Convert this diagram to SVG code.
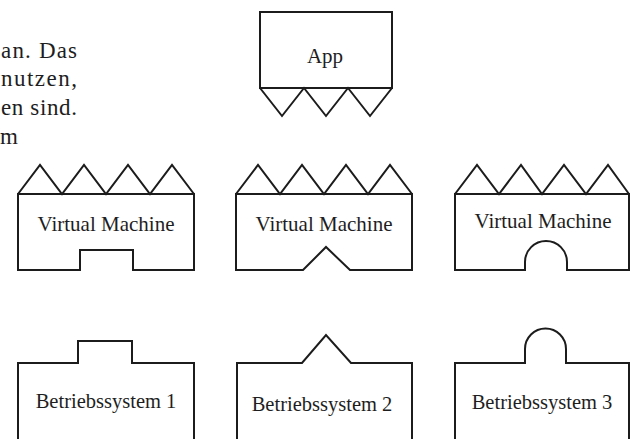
<svg xmlns="http://www.w3.org/2000/svg" width="631" height="439" viewBox="0 0 631 439">
  <style>
    .shape { fill: #ffffff; stroke: #1c1c1c; stroke-width: 2; stroke-linejoin: miter; }
    .line { fill: none; stroke: #1c1c1c; stroke-width: 2; stroke-linejoin: miter; }
    .label { font-family: "Liberation Serif", "Times New Roman", serif; fill: #1e1e1e; text-anchor: middle; }
    .vm { font-size: 21px; }
    .os { font-size: 20.5px; }
    .body { font-family: "Liberation Serif", "Times New Roman", serif; font-size: 23px; fill: #1e1e1e; }
  </style>
  <rect width="631" height="439" fill="#ffffff"/>

  <g id="side-text">
    <text class="body" x="1" y="58" textLength="76" lengthAdjust="spacing">an. Das</text>
    <text class="body" x="1" y="86" textLength="76" lengthAdjust="spacing">nutzen,</text>
    <text class="body" x="1" y="115" textLength="76" lengthAdjust="spacing">en sind.</text>
    <text class="body" x="0" y="144">m</text>
  </g>

  <g id="app">
    <rect class="shape" x="260" y="12" width="132" height="76"/>
    <path class="line" d="M260,88 L282,116 L304,88 L326,116 L348,88 L370,116 L392,88"/>
    <text class="label" x="325" y="63" font-size="21">App</text>
  </g>

  <g id="vm1">
    <path class="shape" d="M18,194 L194,194 L194,270 L133,270 L133,250 L80,250 L80,270 L18,270 Z"/>
    <path class="line" d="M18,194 L40,165 L62,194 L84,165 L106,194 L128,165 L150,194 L172,165 L194,194"/>
    <text class="label vm" x="106" y="231">Virtual Machine</text>
  </g>

  <g id="vm2">
    <path class="shape" d="M236,194 L412,194 L412,270 L350,270 L326,247 L303,270 L236,270 Z"/>
    <path class="line" d="M236,194 L258,165 L280,194 L302,165 L324,194 L346,165 L368,194 L390,165 L412,194"/>
    <text class="label vm" x="324" y="231">Virtual Machine</text>
  </g>

  <g id="vm3">
    <path class="shape" d="M455,194 L629,194 L629,270 L567,270 L567,262 A21,21 0 0 0 525,262 L525,270 L455,270 Z"/>
    <path class="line" d="M455,194 L477,165 L499,194 L521,165 L542,194 L564,165 L586,194 L608,165 L629,194"/>
    <text class="label vm" x="543" y="228">Virtual Machine</text>
  </g>

  <g id="os1">
    <path class="shape" d="M18,450 L18,363 L78,363 L78,341 L132,341 L132,363 L194,363 L194,450"/>
    <text class="label os" x="106" y="408">Betriebssystem 1</text>
  </g>

  <g id="os2">
    <path class="shape" d="M237,450 L237,363 L302,363 L326,335 L351,363 L412,363 L412,450"/>
    <text class="label os" x="322" y="411">Betriebssystem 2</text>
  </g>

  <g id="os3">
    <path class="shape" d="M455,450 L455,363 L525,363 L525,349 A20.5,20.5 0 0 1 566,349 L566,363 L629,363 L629,450"/>
    <text class="label os" x="542" y="409">Betriebssystem 3</text>
  </g>

  <g id="connectors"/>
</svg>
